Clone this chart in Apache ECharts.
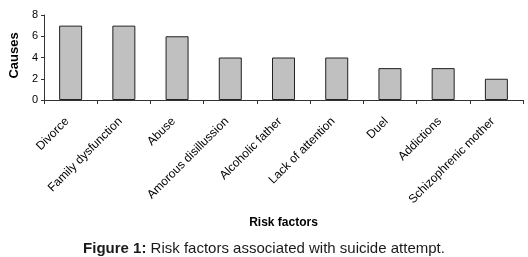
<!DOCTYPE html>
<html><head><meta charset="utf-8">
<script src="https://cdn.jsdelivr.net/npm/echarts@6/dist/echarts.min.js"></script>
<style>html,body{margin:0;padding:0;background:#fff}#c{width:528px;height:257px}</style>
</head><body><div id="c"></div>
<script>
const categories = ["Divorce","Family dysfunction","Abuse","Amorous disillussion","Alcoholic father","Lack of attention","Duel","Addictions","Schizophrenic mother"];
const causes = [7,7,6,4,4,4,3,3,2];
const yTicks = [0,2,4,6,8];

const chart = echarts.init(document.getElementById('c'), null, {renderer:'canvas'});
chart.setOption({
  animation:false,
  textStyle:{fontFamily:'Liberation Sans, Arial, sans-serif'},
  title:{
    text:'{b|Figure 1:} Risk factors associated with suicide attempt.',
    left:'center', top:236,
    textStyle:{fontSize:15, fontWeight:'normal', color:'#1a1a1a', fontFamily:'Liberation Sans, Arial, sans-serif',
      rich:{b:{fontSize:15, fontWeight:'bold', color:'#1a1a1a', fontFamily:'Liberation Sans, Arial, sans-serif'}}}
  },
  grid:{left:44, right:5, top:15, bottom:157, containLabel:false},
  xAxis:{
    type:'category', data:categories, boundaryGap:true,
    name:'Risk factors', nameLocation:'middle', nameGap:117,
    nameTextStyle:{fontWeight:'bold', fontSize:12, color:'#000'},
    axisLine:{lineStyle:{color:'#333', width:1}},
    axisTick:{show:true, length:4, alignWithLabel:false, lineStyle:{color:'#333'}},
    axisLabel:{rotate:45, interval:0, fontSize:12, color:'#000', margin:16, padding:[0,5,0,0]}
  },
  yAxis:{
    type:'value', min:yTicks[0], max:yTicks[yTicks.length-1], interval:2,
    name:'Causes', nameLocation:'middle', nameRotate:90, nameGap:22,
    nameTextStyle:{fontWeight:'bold', fontSize:13, color:'#000', padding:[0,0,0,4]},
    axisLine:{show:true, lineStyle:{color:'#333', width:1}},
    axisTick:{show:true, length:3, lineStyle:{color:'#333'}},
    splitLine:{show:false},
    axisLabel:{fontSize:11, color:'#000', margin:6}
  },
  series:[{
    type:'bar', data:causes, barWidth:23,
    itemStyle:{color:'#c0c0c0', borderColor:'#222', borderWidth:1}
  }]
});
</script></body></html>
